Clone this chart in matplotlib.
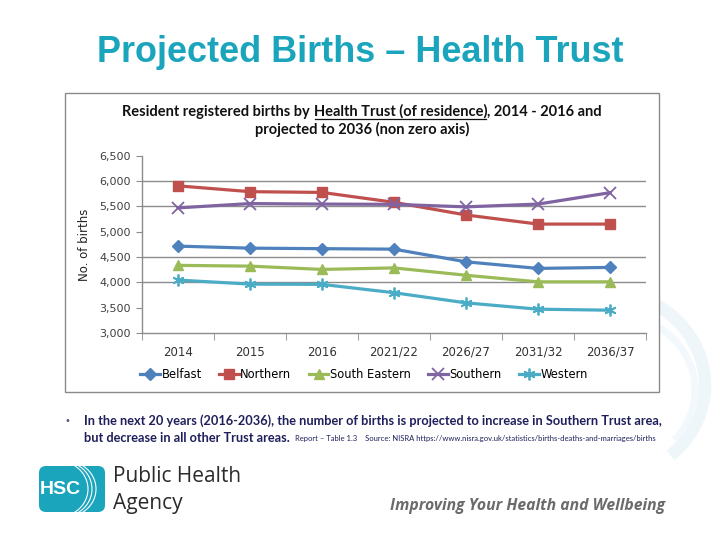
import matplotlib
matplotlib.use("Agg")
import matplotlib.pyplot as plt
from matplotlib.patches import FancyBboxPatch, Rectangle, Arc
from matplotlib.lines import Line2D

# ---------------- data ----------------
categories = ["2014", "2015", "2016", "2021/22", "2026/27", "2031/32", "2036/37"]
belfast = [4715, 4675, 4665, 4655, 4405, 4275, 4295]
northern = [5905, 5790, 5775, 5580, 5330, 5150, 5150]
south_eastern = [4335, 4320, 4255, 4285, 4140, 4010, 4010]
southern = [5470, 5555, 5545, 5540, 5490, 5545, 5770]
western = [4045, 3965, 3960, 3795, 3595, 3470, 3450]
series_names = ["Belfast", "Northern", "South Eastern", "Southern", "Western"]
y_ticks = [3000, 3500, 4000, 4500, 5000, 5500, 6000, 6500]
grid_values = [4000, 4500, 5500, 6000]

W, H = 720, 540
fig = plt.figure(figsize=(7.2, 5.4), dpi=100)
fig.patch.set_facecolor("white")
renderer = fig.canvas.get_renderer()

def fx(x):
    return x / W

def fy(y):
    return 1 - y / H

def fit(t, target_w):
    w = t.get_window_extent(renderer).width
    t.set_fontsize(t.get_fontsize() * target_w / w)

# background overlay for decorative shapes
bg = fig.add_axes([0, 0, 1, 1], zorder=0)
bg.set_xlim(0, W)
bg.set_ylim(H, 0)
bg.axis("off")
# faint watermark arcs
bg.add_patch(Arc((600, 385), 210, 190, theta1=-80, theta2=45, color="#eef6fa", lw=9))
bg.add_patch(Arc((615, 390), 160, 150, theta1=-70, theta2=40, color="#f2f8fb", lw=5))

# chart box
bg.add_patch(Rectangle((65, 93), 594, 299, fill=True, facecolor="white", edgecolor="#8a8a8a", lw=1.0, zorder=1))

# slide title
tt = fig.text(fx(360), fy(52), "Projected Births \u2013 Health Trust", ha="center", va="center",
              fontsize=26, fontweight="bold", color="#1ba5bd", family="Liberation Sans")
fit(tt, 526)

# ---------------- chart ----------------
ax = fig.add_axes([fx(142), fy(333), (646 - 142) / W, (333 - 155.7) / H], zorder=2)
ax.set_facecolor("none")
x = list(range(len(categories)))
colors = ["#4f81bd", "#c0504d", "#9bbb59", "#8064a2", "#4bacc6"]
data = [belfast, northern, south_eastern, southern, western]
markers = ["D", "s", "^", "x", (6, 2, 0)]
msizes = [6, 7, 7.5, 8, 8.5]
for name, vals, c, m, ms in zip(series_names, data, colors, markers, msizes):
    ax.plot(x, vals, color=c, lw=2.3, marker=m, markersize=ms,
            markeredgewidth=1.3 if (m == "x" or isinstance(m, tuple)) else 1.0,
            markeredgecolor=c, markerfacecolor=c, label=name, zorder=3)

for g in grid_values:
    ax.axhline(g, color="#8c8c8c", lw=1.0, zorder=1)

ax.set_xlim(-0.5, len(categories) - 0.5)
ax.set_ylim(3000, 6500)
ax.set_yticks(y_ticks)
ax.set_yticklabels([f"{v:,}" for v in y_ticks], fontsize=8, color="#404040", family="DejaVu Sans")
ax.set_xticks(x)
ax.set_xticklabels(categories, fontsize=8.5, color="#333333", family="DejaVu Sans")
ax.set_xticks([i - 0.5 for i in range(len(categories) + 1)], minor=True)
ax.tick_params(axis="x", which="major", length=0, pad=9)
ax.tick_params(axis="x", which="minor", length=5, color="#8c8c8c", direction="out")
ax.tick_params(axis="y", length=4, color="#8c8c8c", direction="out", pad=4)
for s in ["top", "right"]:
    ax.spines[s].set_visible(False)
for s in ["left", "bottom"]:
    ax.spines[s].set_color("#8c8c8c")
    ax.spines[s].set_linewidth(1.0)
ax.set_ylabel("No. of births", fontsize=8.5, color="#222222", family="DejaVu Sans", labelpad=6)

handles, labels = ax.get_legend_handles_labels()
fig.legend(handles, labels, loc="center", bbox_to_anchor=(fx(364), fy(375)), ncol=5, frameon=False,
           handlelength=1.7, columnspacing=1.5, handletextpad=0.15,
           prop={"family": "DejaVu Sans", "size": 8.3})

# chart title with underlined part
tkw = dict(fontsize=10.5, fontweight="bold", color="#111111", family="Lato", va="baseline")
parts = ["Resident registered births by ", "Health Trust (of residence)", ", 2014 - 2016 and"]
texts = [fig.text(0, fy(116), p, ha="left", **tkw) for p in parts]
widths = [t.get_window_extent(renderer).width for t in texts]
total = sum(widths)
start = 362 - total / 2
cur = start
for t, w in zip(texts, widths):
    t.set_x(fx(cur))
    cur += w
ul_x0 = start + widths[0]
ul_x1 = ul_x0 + widths[1]
fig.add_artist(Line2D([fx(ul_x0 + 1), fx(ul_x1 - 1)], [fy(118.5), fy(118.5)], color="#111111", lw=0.9))
fig.text(fx(362), fy(134), "projected to 2036 (non zero axis)", ha="center", **tkw)

# ---------------- bullet text ----------------
navy = "#1f1f5c"
fig.text(fx(64), fy(421), "\u2022", fontsize=7, color="#5a5a8a", va="center", ha="left")
bkw = dict(fontsize=10.5, color=navy, family="Lato", fontweight="bold", va="baseline", ha="left")
t1 = fig.text(fx(84), fy(425), "In the next 20 years (2016-2036), the number of births is projected to increase in Southern Trust area,", **bkw)
fit(t1, 578)
bkw["fontsize"] = t1.get_fontsize()
t2 = fig.text(fx(84), fy(442), "but decrease in all other Trust areas.", **bkw)
w2 = t2.get_window_extent(renderer).width
src_x = 84 + w2 + 5
ts = fig.text(fx(src_x), fy(441), "Report \u2013 Table 1.3    Source: NISRA https://www.nisra.gov.uk/statistics/births-deaths-and-marriages/births",
              fontsize=4.6, color=navy, family="Lato", va="baseline", ha="left")
fit(ts, 655 - src_x)

# ---------------- logo ----------------
bg.add_patch(FancyBboxPatch((39, 466), 66, 46, boxstyle="round,pad=0,rounding_size=7",
                            facecolor="#1ba5bd", edgecolor="none", zorder=2))
for cx, lw in [(58, 0.8), (62, 0.8), (66, 0.8)]:
    bg.add_patch(Arc((cx, 489), 60, 56, theta1=-60, theta2=60, color="white", lw=lw, zorder=3))
fig.text(fx(60), fy(489), "HSC", fontsize=14, fontweight="bold", color="white", ha="center", va="center",
         family="Liberation Sans", zorder=4)
fig.text(fx(113), fy(476), "Public Health", fontsize=15, color="#2b2b2b", ha="left", va="center", family="Open Sans")
fig.text(fx(113), fy(503), "Agency", fontsize=15, color="#2b2b2b", ha="left", va="center", family="Open Sans")
ti = fig.text(fx(665), fy(506), "Improving Your Health and Wellbeing", fontsize=11, fontweight="bold", style="italic",
              color="#6b6b6b", ha="right", va="center", family="Open Sans")
fit(ti, 275)

fig.savefig("out.png", dpi=100)
